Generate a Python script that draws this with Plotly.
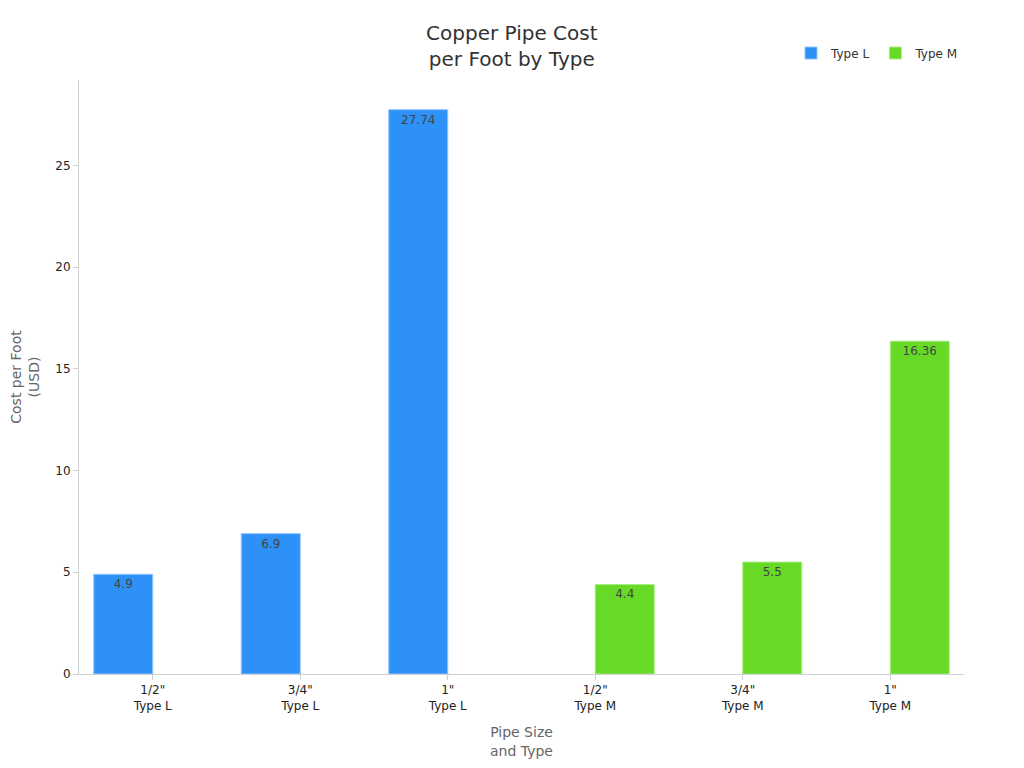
import plotly.graph_objects as go

categories = ['1/2"<br>Type L', '3/4"<br>Type L', '1"<br>Type L',
              '1/2"<br>Type M', '3/4"<br>Type M', '1"<br>Type M']
type_l_values = [4.9, 6.9, 27.74, None, None, None]
type_m_values = [None, None, None, 4.4, 5.5, 16.36]

def fmt(v):
    return "" if v is None else f"{v:g}"

fig = go.Figure()
fig.add_trace(go.Bar(
    name="Type L", x=categories, y=type_l_values,
    text=[fmt(v) for v in type_l_values],
    textposition="inside", insidetextanchor="end",
    textfont=dict(color="#444444", size=12),
    marker=dict(color="#2E91F8", line=dict(color="#8EC5FB", width=1)),
))
fig.add_trace(go.Bar(
    name="Type M", x=categories, y=type_m_values,
    text=[fmt(v) for v in type_m_values],
    textposition="inside", insidetextanchor="end",
    textfont=dict(color="#444444", size=12),
    marker=dict(color="#66DA26", line=dict(color="#A8EC86", width=1)),
))

fig.update_layout(
    width=1024, height=768,
    barmode="group", bargap=0.2, bargroupgap=0,
    paper_bgcolor="white", plot_bgcolor="white",
    font=dict(family="DejaVu Sans", color="#222222", size=12),
    title=dict(text="Copper Pipe Cost<br>per Foot by Type", x=0.492, xanchor="center",
               y=0.958, yanchor="top", font=dict(size=20, color="#333333")),
    margin=dict(l=71, r=68, t=72, b=102),
    legend=dict(orientation="h", x=1.0, xanchor="right", y=1.021, yanchor="bottom",
                font=dict(size=12, color="#333333")),
    xaxis=dict(
        title=dict(text="Pipe Size<br>and Type", font=dict(size=14, color="#666666")),
        showline=True, linecolor="#D0D0D0", linewidth=1,
        ticks="outside", tickcolor="#D0D0D0", ticklen=5,
        showgrid=False, automargin=False,
    ),
    yaxis=dict(
        title=dict(text="Cost per Foot<br>(USD)", font=dict(size=14, color="#666666"),
                   standoff=24),
        range=[0, 29.2], dtick=5,
        showline=True, linecolor="#D0D0D0", linewidth=1,
        ticks="outside", tickcolor="#D0D0D0", ticklen=5,
        showgrid=False, zeroline=False, automargin=False,
    ),
)

fig.write_html("out.html")
